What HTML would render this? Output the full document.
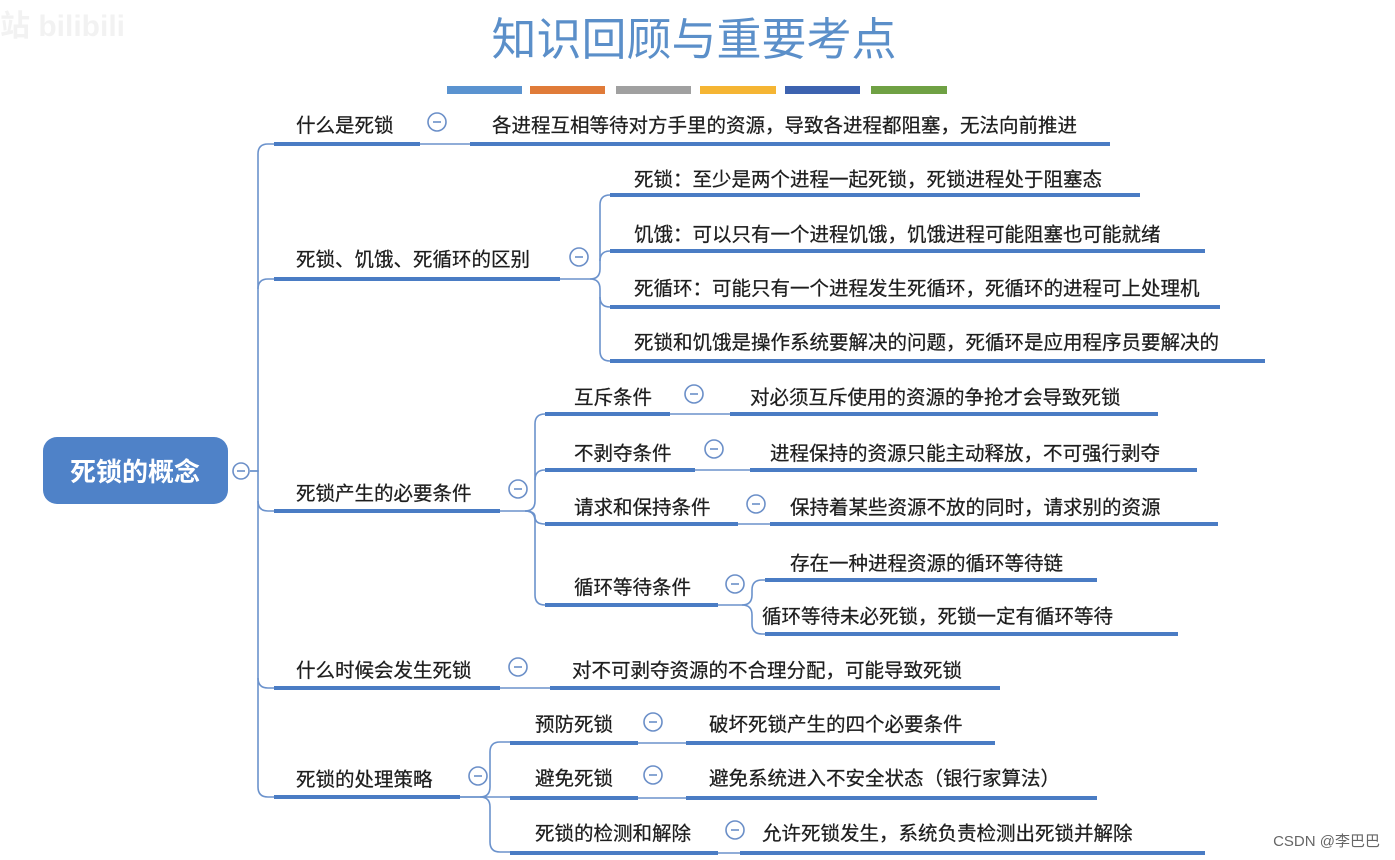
<!DOCTYPE html>
<html><head><meta charset="utf-8"><style>
html,body{margin:0;padding:0;background:#fff;}
svg{display:block;}
text{font-family:"Liberation Sans","Noto Sans CJK SC",sans-serif;}
.t{font-size:19.5px;fill:#1e1e1e;stroke:#1e1e1e;stroke-width:0.25;}
.u{stroke:#4a7cc4;stroke-width:4;}
.c{fill:none;stroke:#6b92cc;stroke-width:1.6;}
.ci{fill:#fff;stroke:#6b8fc8;stroke-width:1.6;}
.m{stroke:#6b8fc8;stroke-width:1.6;}
</style></head><body>
<svg width="1395" height="860" viewBox="0 0 1395 860" xmlns="http://www.w3.org/2000/svg">
<text x="0" y="36" font-size="30" fill="#f2f2f2" font-weight="bold">站 bilibili</text>
<text x="694" y="55" text-anchor="middle" font-size="45" fill="#5b8fc9">知识回顾与重要考点</text>
<rect x="447" y="86" width="75" height="8" fill="#5a93d0"/>
<rect x="530" y="86" width="75" height="8" fill="#e07b39"/>
<rect x="616" y="86" width="75" height="8" fill="#a0a0a0"/>
<rect x="700" y="86" width="76" height="8" fill="#f5b533"/>
<rect x="785" y="86" width="75" height="8" fill="#3d63b0"/>
<rect x="871" y="86" width="76" height="8" fill="#6fa144"/>

<path class="c" d="M250 471 H258 V154 Q258 144 268 144 H274"/>
<path class="c" d="M258 289 Q258 279 268 279 H274"/>
<path class="c" d="M250 471 H258 V501 Q258 511 268 511 H274"/>
<path class="c" d="M258 501 V678 Q258 688 268 688 H274"/>
<path class="c" d="M258 678 V787 Q258 797 268 797 H274"/>

<rect x="43" y="437" width="185" height="67" rx="14" fill="#4f82c8"/>
<text x="135" y="481" text-anchor="middle" font-size="26" font-weight="bold" fill="#fff">死锁的概念</text>

<line class="u" x1="274" y1="144" x2="420" y2="144"/>
<text class="t" x="296" y="132">什么是死锁</text>
<path class="c" d="M420 144 H470"/>
<line class="u" x1="470" y1="144" x2="1110" y2="144"/>
<text class="t" x="492" y="132">各进程互相等待对方手里的资源，导致各进程都阻塞，无法向前推进</text>

<line class="u" x1="274" y1="279" x2="560" y2="279"/>
<text class="t" x="296" y="266">死锁、饥饿、死循环的区别</text>
<path class="c" d="M560 279 H590 Q600 279 600 269 V205 Q600 195 610 195"/>
<path class="c" d="M600 261 Q600 251 610 251"/>
<path class="c" d="M590 279 Q600 279 600 289 V351 Q600 361 610 361"/>
<path class="c" d="M600 297 Q600 307 610 307"/>
<line class="u" x1="610" y1="195" x2="1140" y2="195"/>
<text class="t" x="634" y="186">死锁：至少是两个进程一起死锁，死锁进程处于阻塞态</text>
<line class="u" x1="610" y1="251" x2="1205" y2="251"/>
<text class="t" x="634" y="241">饥饿：可以只有一个进程饥饿，饥饿进程可能阻塞也可能就绪</text>
<line class="u" x1="610" y1="307" x2="1220" y2="307"/>
<text class="t" x="634" y="295">死循环：可能只有一个进程发生死循环，死循环的进程可上处理机</text>
<line class="u" x1="610" y1="361" x2="1265" y2="361"/>
<text class="t" x="634" y="349">死锁和饥饿是操作系统要解决的问题，死循环是应用程序员要解决的</text>

<line class="u" x1="274" y1="511" x2="500" y2="511"/>
<text class="t" x="296" y="500">死锁产生的必要条件</text>
<path class="c" d="M500 511 H525 Q535 511 535 501 V424 Q535 414 545 414"/>
<path class="c" d="M535 480 Q535 470 545 470"/>
<path class="c" d="M525 511 Q535 511 535 517 Q535 524 545 524"/>
<path class="c" d="M525 511 Q535 511 535 521 V595 Q535 605 545 605"/>
<line class="u" x1="545" y1="414" x2="670" y2="414"/>
<text class="t" x="574" y="404">互斥条件</text>
<path class="c" d="M670 414 H730"/>
<line class="u" x1="730" y1="414" x2="1158" y2="414"/>
<text class="t" x="750" y="404">对必须互斥使用的资源的争抢才会导致死锁</text>
<line class="u" x1="545" y1="470" x2="695" y2="470"/>
<text class="t" x="574" y="460">不剥夺条件</text>
<path class="c" d="M695 470 H750"/>
<line class="u" x1="750" y1="470" x2="1197" y2="470"/>
<text class="t" x="770" y="460">进程保持的资源只能主动释放，不可强行剥夺</text>
<line class="u" x1="545" y1="524" x2="738" y2="524"/>
<text class="t" x="574" y="514">请求和保持条件</text>
<path class="c" d="M738 524 H770"/>
<line class="u" x1="770" y1="524" x2="1218" y2="524"/>
<text class="t" x="790" y="514">保持着某些资源不放的同时，请求别的资源</text>
<line class="u" x1="545" y1="605" x2="718" y2="605"/>
<text class="t" x="574" y="594">循环等待条件</text>
<path class="c" d="M718 605 H742 Q752 605 752 595 V590 Q752 580 762 580 H765"/>
<path class="c" d="M742 605 Q752 605 752 615 V624 Q752 634 762 634 H765"/>
<line class="u" x1="765" y1="580" x2="1097" y2="580"/>
<text class="t" x="790" y="570">存在一种进程资源的循环等待链</text>
<line class="u" x1="765" y1="634" x2="1178" y2="634"/>
<text class="t" x="762" y="623">循环等待未必死锁，死锁一定有循环等待</text>

<line class="u" x1="274" y1="688" x2="500" y2="688"/>
<text class="t" x="296" y="677">什么时候会发生死锁</text>
<path class="c" d="M500 688 H550"/>
<line class="u" x1="550" y1="688" x2="1000" y2="688"/>
<text class="t" x="572" y="677">对不可剥夺资源的不合理分配，可能导致死锁</text>

<line class="u" x1="274" y1="797" x2="460" y2="797"/>
<text class="t" x="296" y="786">死锁的处理策略</text>
<path class="c" d="M460 797 H480 Q490 797 490 787 V752 Q490 742 500 742 H510"/>
<path class="c" d="M460 797 H510"/>
<path class="c" d="M480 797 Q490 797 490 807 V842 Q490 852 500 852 H510"/>
<line class="u" x1="510" y1="743" x2="638" y2="743"/>
<text class="t" x="535" y="731">预防死锁</text>
<path class="c" d="M638 743 H686"/>
<line class="u" x1="686" y1="743" x2="995" y2="743"/>
<text class="t" x="709" y="731">破坏死锁产生的四个必要条件</text>
<line class="u" x1="510" y1="798" x2="638" y2="798"/>
<text class="t" x="535" y="785">避免死锁</text>
<path class="c" d="M638 798 H686"/>
<line class="u" x1="686" y1="798" x2="1097" y2="798"/>
<text class="t" x="709" y="785">避免系统进入不安全状态（银行家算法）</text>
<line class="u" x1="510" y1="853" x2="718" y2="853"/>
<text class="t" x="535" y="840">死锁的检测和解除</text>
<path class="c" d="M718 853 H740"/>
<line class="u" x1="740" y1="853" x2="1205" y2="853"/>
<text class="t" x="762" y="840">允许死锁发生，系统负责检测出死锁并解除</text>

<g>
<circle class="ci" cx="241" cy="471" r="8"/><line class="m" x1="237" y1="471" x2="245" y2="471"/>
<circle class="ci" cx="437" cy="122" r="9"/><line class="m" x1="433" y1="122" x2="441" y2="122"/>
<circle class="ci" cx="579" cy="257" r="9"/><line class="m" x1="575" y1="257" x2="583" y2="257"/>
<circle class="ci" cx="518" cy="489" r="9"/><line class="m" x1="514" y1="489" x2="522" y2="489"/>
<circle class="ci" cx="694" cy="394" r="9"/><line class="m" x1="690" y1="394" x2="698" y2="394"/>
<circle class="ci" cx="714" cy="449" r="9"/><line class="m" x1="710" y1="449" x2="718" y2="449"/>
<circle class="ci" cx="756" cy="504" r="9"/><line class="m" x1="752" y1="504" x2="760" y2="504"/>
<circle class="ci" cx="735" cy="584" r="9"/><line class="m" x1="731" y1="584" x2="739" y2="584"/>
<circle class="ci" cx="518" cy="667" r="9"/><line class="m" x1="514" y1="667" x2="522" y2="667"/>
<circle class="ci" cx="478" cy="776" r="9"/><line class="m" x1="474" y1="776" x2="482" y2="776"/>
<circle class="ci" cx="653" cy="722" r="9"/><line class="m" x1="649" y1="722" x2="657" y2="722"/>
<circle class="ci" cx="653" cy="775" r="9"/><line class="m" x1="649" y1="775" x2="657" y2="775"/>
<circle class="ci" cx="735" cy="830" r="9"/><line class="m" x1="731" y1="830" x2="739" y2="830"/>
</g>
<text x="1380" y="846" text-anchor="end" font-size="15" fill="#666">CSDN @李巴巴</text>
</svg>
</body></html>
